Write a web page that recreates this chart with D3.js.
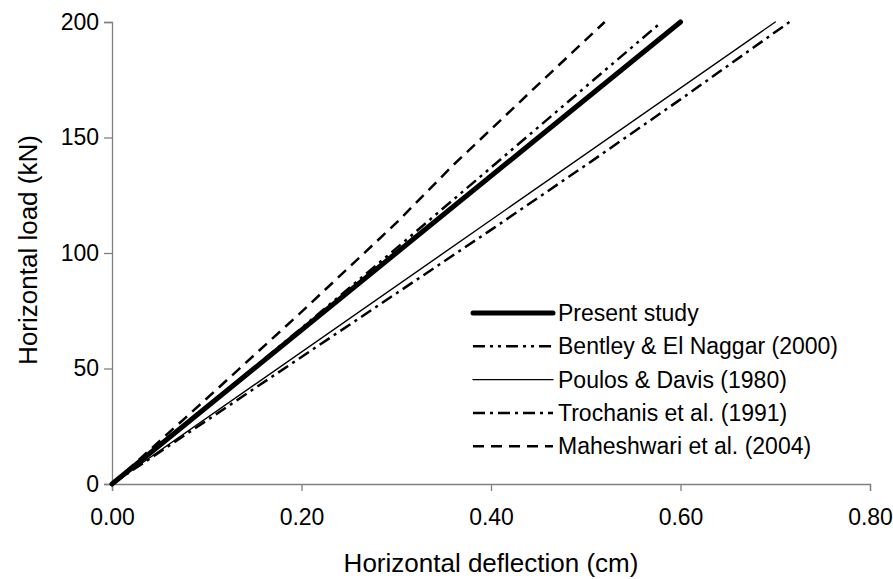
<!DOCTYPE html>
<html>
<head>
<meta charset="utf-8">
<script src="https://cdn.jsdelivr.net/npm/d3@7"></script>
<style>
    body { margin: 0; background: #fff; }
    text { font-family: "Liberation Sans", Arial, sans-serif; fill: #000; }
</style>
</head>
<body>
<div id="chart"></div>
<script>
// data (deflection in cm, load in kN)
var seriesNames = ["Present study", "Bentley & El Naggar (2000)", "Poulos & Davis (1980)",
    "Trochanis et al. (1991)", "Maheshwari et al. (2004)"];

var presentDefl = [0, 0.15, 0.30, 0.45, 0.60];
var presentLoad = [0, 50, 100, 150, 200];

var bentleyDefl = [0, 0.1, 0.2, 0.3, 0.4, 0.5, 0.58];
var bentleyLoad = [0, 33.5, 67.5, 102, 137, 172, 200];

var poulosDefl = [0, 0.70];
var poulosLoad = [0, 200];

var trochanisDefl = [0, 0.1, 0.2, 0.3, 0.4, 0.5, 0.6, 0.715];
var trochanisLoad = [0, 27.5, 55, 82.5, 110, 138, 166.5, 200];

var maheshwariDefl = [0, 0.1, 0.2, 0.3, 0.36, 0.45, 0.52];
var maheshwariLoad = [0, 37, 74.5, 113, 138, 173, 200];

var xTicks = [0, 0.2, 0.4, 0.6, 0.8];
var yTicks = [0, 50, 100, 150, 200];

function LoadChart() {
    var self = this;
    self.init();
}

LoadChart.prototype.init = function () {
    var self = this;
    self.svg = d3.select("#chart").append("svg")
        .attr("width", 893)
        .attr("height", 579);
    self.svg.append("g").attr("id", "xAxis");
    self.svg.append("g").attr("id", "yAxis");
    self.svg.append("g").attr("id", "lines");
    self.svg.append("g").attr("id", "legend");
}

LoadChart.prototype.update = function () {
    var self = this;

    var xscale = d3.scaleLinear().domain([0, 0.8]).range([112, 870]);
    var yscale = d3.scaleLinear().domain([0, 200]).range([484, 22]);

    var xAxis = d3.axisBottom(xscale).tickValues(xTicks).tickSize(7)
        .tickPadding(18).tickFormat(d3.format(".2f"));
    var yAxis = d3.axisLeft(yscale).tickValues(yTicks).tickSize(8).tickPadding(5);

    var gx = d3.select("#xAxis").attr("transform", "translate(0,484)").call(xAxis);
    var gy = d3.select("#yAxis").attr("transform", "translate(112,0)").call(yAxis);
    [gx, gy].forEach(function (g) {
        g.select(".domain").attr("stroke", "#808080").attr("stroke-width", 1.3);
        g.selectAll(".tick line").attr("stroke", "#808080").attr("stroke-width", 1.3);
        g.selectAll(".tick text").attr("fill", "#000")
            .style("font-family", "Liberation Sans, Arial, sans-serif")
            .style("font-size", "23px");
    });

    //axis titles
    self.svg.append("text")
        .attr("x", (112 + 870) / 2)
        .attr("y", 572)
        .attr("text-anchor", "middle")
        .style("font-size", "26px")
        .text("Horizontal deflection (cm)");
    self.svg.append("text")
        .attr("transform", "translate(37,250) rotate(-90)")
        .attr("text-anchor", "middle")
        .style("font-size", "26px")
        .text("Horizontal load (kN)");

    var series = [
        {defl: presentDefl, load: presentLoad, width: 5, dash: null},
        {defl: bentleyDefl, load: bentleyLoad, width: 2.5, dash: "12,5,3,5,3,5"},
        {defl: poulosDefl, load: poulosLoad, width: 1.4, dash: null},
        {defl: trochanisDefl, load: trochanisLoad, width: 2.5, dash: "12,5,3,5"},
        {defl: maheshwariDefl, load: maheshwariLoad, width: 2.5, dash: "11,7"}
    ];

    var line = d3.line()
        .x(function (d) { return xscale(d[0]); })
        .y(function (d) { return yscale(d[1]); });

    d3.select("#lines").selectAll("path").data(series).enter()
        .append("path")
        .attr("d", function (s) {
            return line(s.defl.map(function (v, i) { return [v, s.load[i]]; }));
        })
        .attr("fill", "none")
        .attr("stroke", "#000")
        .attr("stroke-width", function (s) { return s.width; })
        .attr("stroke-dasharray", function (s) { return s.dash; })
        .attr("stroke-linecap", function (s) { return s.dash ? "butt" : "round"; });

    //legend
    var rows = d3.select("#legend").selectAll("g").data(series).enter()
        .append("g")
        .attr("transform", function (s, i) { return "translate(473," + (313 + i * 33.3) + ")"; });
    rows.append("line")
        .attr("x1", 0).attr("x2", 80)
        .attr("stroke", "#000")
        .attr("stroke-width", function (s) { return s.width; })
        .attr("stroke-dasharray", function (s) { return s.dash; })
        .attr("stroke-linecap", function (s) { return s.dash ? "butt" : "round"; });
    rows.append("text")
        .attr("x", 85)
        .attr("y", 8)
        .style("font-size", "23px")
        .text(function (s, i) { return seriesNames[i]; });
}

var chart = new LoadChart();
chart.update();
</script>
</body>
</html>
